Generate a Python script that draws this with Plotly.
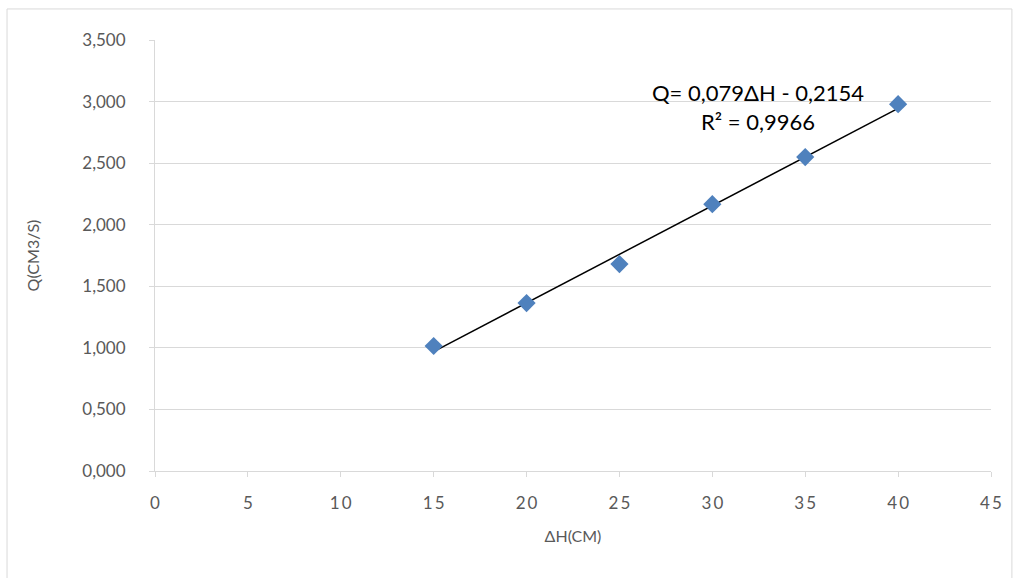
import plotly.graph_objects as go

dh = [15, 20, 25, 30, 35, 40]
q = [1.015, 1.364, 1.680, 2.167, 2.549, 2.979]
slope = 0.079
intercept = -0.2154
r2_text = "0,9966"

x_ticks = [0, 5, 10, 15, 20, 25, 30, 35, 40, 45]
y_ticks = [0, 0.5, 1.0, 1.5, 2.0, 2.5, 3.0, 3.5]

fit_x = [min(dh), max(dh)]
fit_y = [slope * v + intercept for v in fit_x]

fig = go.Figure()
fig.add_trace(go.Scatter(x=fit_x, y=fit_y, mode="lines",
                         line=dict(color="black", width=1.5), hoverinfo="skip"))
fig.add_trace(go.Scatter(x=dh, y=q, mode="markers",
                         marker=dict(symbol="diamond", size=14, color="#4F81BD",
                                     line=dict(width=0))))

gray = "#595959"
fam = "Lato, 'Open Sans', sans-serif"
fig.update_layout(
    width=1019, height=578,
    margin=dict(l=155, r=28, t=40, b=107),
    paper_bgcolor="white", plot_bgcolor="white",
    showlegend=False,
    separators=",.",
    font=dict(family=fam, color=gray, size=16),
    xaxis=dict(range=[0, 45], tickvals=x_ticks,
               ticktext=["\u2009".join(str(t)) for t in x_ticks],
               showgrid=False, zeroline=False,
               showline=True, linecolor="#d9d9d9", linewidth=1,
               ticks="outside", ticklen=5, tickcolor="#d9d9d9",
               ticklabelstandoff=12,
               tickfont=dict(size=17, color=gray),
               title=dict(text="ΔH(CM)", font=dict(size=16, color=gray), standoff=18)),
    yaxis=dict(range=[0, 3.5], tickvals=y_ticks, tickformat=".3f",
               showgrid=True, gridcolor="#d9d9d9", gridwidth=1, zeroline=False,
               showline=True, linecolor="#d9d9d9", linewidth=1,
               ticks="outside", ticklen=5, tickcolor="#d9d9d9",
               ticklabelstandoff=20,
               tickfont=dict(size=17, color=gray),
               title=dict(text="Q(CM3/S)", font=dict(size=16, color=gray), standoff=38)),
    annotations=[dict(x=32.46, y=2.958, xref="x", yref="y",
                      text="Q= 0,079ΔH - 0,2154<br>R² = " + r2_text,
                      showarrow=False, align="center",
                      font=dict(size=22, color="black", family=fam))],
    shapes=[dict(type="rect", xref="paper", yref="paper",
                 x0=-0.177, x1=1.025, y0=-0.26, y1=1.072,
                 line=dict(color="#d9d9d9", width=1), layer="below")],
)

fig.write_html("out.html")
